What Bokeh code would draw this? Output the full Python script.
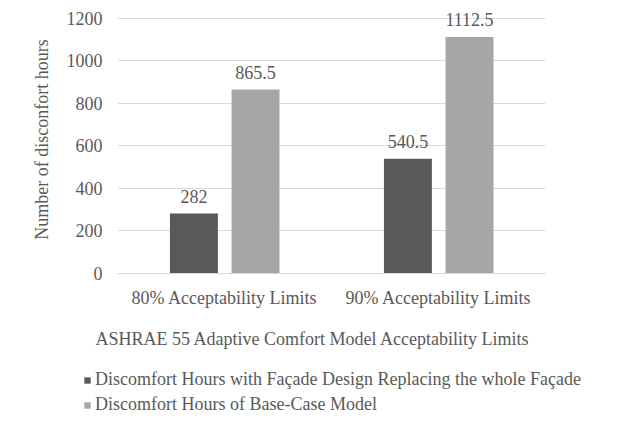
from bokeh.plotting import figure
from bokeh.layouts import column
from bokeh.models import (ColumnDataSource, FactorRange, Range1d, FixedTicker, LabelSet,
                          Label, Legend, LegendItem)
from bokeh.transform import dodge
from bokeh.embed import file_html
from bokeh.resources import INLINE

categories = ["80% Acceptability Limits", "90% Acceptability Limits"]
facade_hours = [282, 540.5]
base_hours = [865.5, 1112.5]
facade_labels = ["282", "540.5"]
base_labels = ["865.5", "1112.5"]
y_ticks = [0, 200, 400, 600, 800, 1000, 1200]
series_names = ["Discomfort Hours with Façade Design Replacing the whole Façade",
                "Discomfort Hours of Base-Case Model"]
x_title = "ASHRAE 55 Adaptive Comfort Model Acceptability Limits"
y_title = "Number of disconfort hours"

FONT = "Liberation Serif"
TXT = "#595959"
DARK = "#595959"
LIGHT = "#a6a6a6"

src = ColumnDataSource(dict(cat=categories, f=facade_hours, b=base_hours,
                            fl=facade_labels, bl=base_labels))

# ---- main chart ----
p = figure(x_range=FactorRange(*categories, range_padding=0), y_range=Range1d(0, 1261),
           frame_width=428, frame_height=268, output_backend="svg", toolbar_location=None,
           min_border_left=117, min_border_right=70, min_border_top=5, min_border_bottom=40)
p.frame_align = False
p.outline_line_color = None
p.xgrid.grid_line_color = None
p.ygrid.grid_line_color = "#d9d9d9"
p.ygrid.grid_line_width = 1

p.vbar(x=dodge("cat", -0.143, range=p.x_range), top="f", width=0.224, source=src,
       fill_color=DARK, line_color=None)
p.vbar(x=dodge("cat", 0.145, range=p.x_range), top="b", width=0.224, source=src,
       fill_color=LIGHT, line_color=None)

for key, lab, off in [("f", "fl", -0.143), ("b", "bl", 0.145)]:
    ls = LabelSet(x=dodge("cat", off, range=p.x_range), y=key, text=lab, source=src,
                  text_align="center", text_baseline="alphabetic", y_offset=11,
                  text_font=FONT, text_font_size="18px", text_color=TXT)
    p.add_layout(ls)

p.yaxis.ticker = FixedTicker(ticks=y_ticks)
p.yaxis.axis_line_color = None
p.yaxis.major_tick_line_color = None
p.yaxis.minor_tick_line_color = None
p.yaxis.major_tick_out = 0
p.yaxis.major_label_standoff = 15
p.yaxis.major_label_text_font = FONT
p.yaxis.major_label_text_font_size = "18px"
p.yaxis.major_label_text_color = TXT
p.yaxis.axis_label = y_title
p.yaxis.axis_label_text_font = FONT
p.yaxis.axis_label_text_font_size = "18px"
p.yaxis.axis_label_text_font_style = "normal"
p.yaxis.axis_label_text_color = TXT
p.yaxis.axis_label_standoff = 12

p.xaxis.axis_line_color = "#d9d9d9"
p.xaxis.major_tick_line_color = None
p.xaxis.major_tick_out = 0
p.xaxis.major_label_standoff = 14
p.xaxis.major_label_text_font = FONT
p.xaxis.major_label_text_font_size = "18px"
p.xaxis.major_label_text_color = TXT

# ---- axis title + legend strip (its frame covers the whole strip) ----
W2, H2 = 615, 102
q = figure(width=W2, height=H2, x_range=FactorRange(*categories), y_range=Range1d(-H2, 0),
           output_backend="svg", toolbar_location=None,
           min_border_left=0, min_border_right=0, min_border_top=0, min_border_bottom=0)
q.frame_align = False
q.axis.visible = False
q.grid.visible = False
q.outline_line_color = None
# same series, drawn on a range where the bars themselves fall outside the strip
q1 = q.vbar(x="cat", top="f", bottom=0, width=0.2, source=src, fill_color=DARK, line_color=None)
q2 = q.vbar(x="cat", top="b", bottom=0, width=0.2, source=src, fill_color=LIGHT, line_color=None)

q.add_layout(Label(x=95, y=H2 - 25, x_units="screen", y_units="screen", text=x_title,
                   text_font=FONT, text_font_size="18px", text_color=TXT,
                   text_align="left", text_baseline="middle"))

legend = Legend(items=[LegendItem(label=series_names[0], renderers=[q1]),
                       LegendItem(label=series_names[1], renderers=[q2])],
                location=(83, 0), orientation="vertical",
                glyph_width=8, glyph_height=8, label_standoff=4, spacing=4,
                label_height=20, padding=0, margin=0,
                label_text_font=FONT, label_text_font_size="18px", label_text_color=TXT,
                background_fill_alpha=0, border_line_color=None)
q.add_layout(legend)

open("out.html", "w").write(file_html(column(p, q, spacing=0), INLINE))
